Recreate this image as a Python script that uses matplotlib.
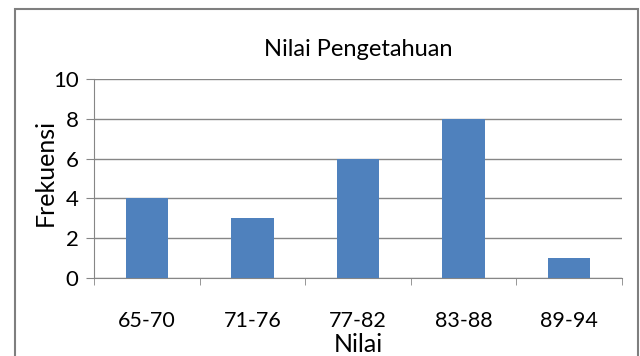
import matplotlib.pyplot as plt
from matplotlib.patches import Rectangle
import numpy as np

kategori = ['65-70', '71-76', '77-82', '83-88', '89-94']
frekuensi = [4, 3, 6, 8, 1]

plt.rcParams['font.family'] = ['Lato', 'DejaVu Sans']

fig = plt.figure(figsize=(6.4, 3.56), dpi=100)
ax = fig.add_axes([94 / 640, 1 - 278 / 356, (622 - 94) / 640, (278 - 79) / 356])

x = np.arange(len(kategori))
ax.bar(x, frekuensi, width=0.4, color='#4f81bd', zorder=3)

ax.set_xlim(-0.5, len(kategori) - 0.5)
ax.set_ylim(0, 10)
ax.set_yticks(range(0, 11, 2))
ax.yaxis.grid(True, color='#868686', linewidth=1)
ax.set_axisbelow(True)

ax.set_xticks(x)
ax.set_xticklabels(kategori, fontsize=15.5)
ax.set_xticks(np.arange(-0.5, len(kategori)), minor=True)
ax.tick_params(axis='x', which='major', length=0, pad=24)
ax.tick_params(axis='x', which='minor', length=5, color='#868686')
ax.tick_params(axis='y', length=6, color='#868686', labelsize=16, pad=5)

for s in ['top', 'right']:
    ax.spines[s].set_visible(False)
for s in ['left', 'bottom']:
    ax.spines[s].set_color('#868686')

fig.text(358 / 640, 1 - 50 / 356, 'Nilai Pengetahuan', fontsize=17,
         ha='center', va='center')
fig.text(358 / 640, 1 - 345 / 356, 'Nilai', fontsize=18,
         ha='center', va='center')
fig.text(45 / 640, 1 - 172 / 356, 'Frekuensi', fontsize=18,
         ha='center', va='center', rotation=90)

fig.patches.append(Rectangle((15 / 640, -0.05), 623 / 640, 1.05 - 9 / 356,
                             transform=fig.transFigure, fill=False,
                             edgecolor='#7f7f7f', linewidth=1.5))

plt.savefig('out.png', dpi=100)
